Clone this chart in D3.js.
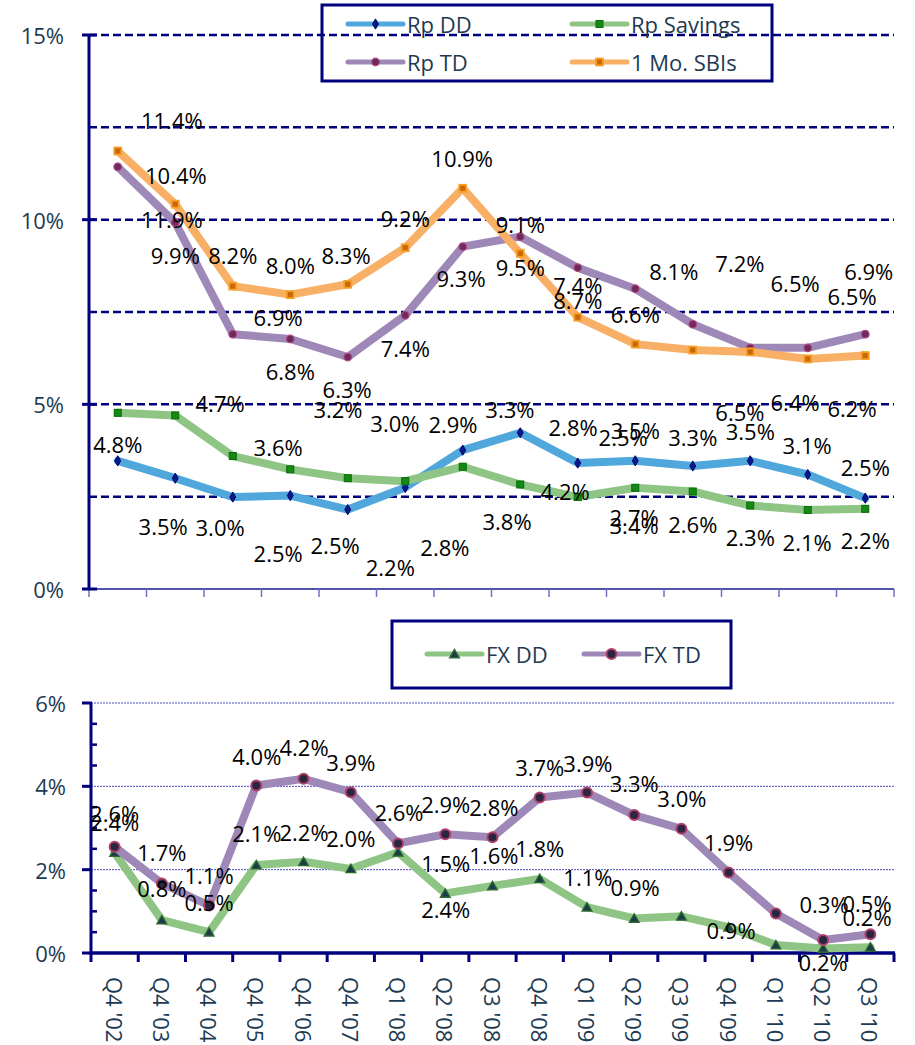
<!DOCTYPE html>
<html><head><meta charset="utf-8">
<script src="https://cdn.jsdelivr.net/npm/d3@7/dist/d3.min.js"></script>
<style>
html,body{margin:0;padding:0;background:#fff;}
svg{display:block;font-family:"Open Sans",sans-serif;}
</style></head>
<body><svg id="c" width="915" height="1045"></svg>
<script>
// ---------- DATA ----------
const bottomCategories = ["Q4 '02","Q4 '03","Q4 '04","Q4 '05","Q4 '06","Q4 '07","Q1 '08","Q2 '08","Q3 '08","Q4 '08","Q1 '09","Q2 '09","Q3 '09","Q4 '09","Q1 '10","Q2 '10","Q3 '10"];
const topCategories = ["P1","P2","P3","P4","P5","P6","P7","P8","P9","P10","P11","P12","P13","P14"];

const rpDD      = [3.47,3.00,2.49,2.53,2.15,2.75,3.76,4.23,3.41,3.47,3.33,3.47,3.10,2.46];
const rpSavings = [4.77,4.70,3.60,3.24,3.00,2.92,3.31,2.83,2.49,2.74,2.64,2.26,2.14,2.17];
const rpTD      = [11.43,9.92,6.90,6.77,6.28,7.41,9.27,9.54,8.70,8.13,7.17,6.53,6.53,6.90];
const sbi1Mo    = [11.86,10.42,8.20,7.97,8.25,9.24,10.85,9.09,7.36,6.63,6.47,6.42,6.23,6.32];

const fxDD = [2.41,0.79,0.50,2.11,2.19,2.02,2.42,1.43,1.61,1.78,1.10,0.83,0.88,0.62,0.19,0.11,0.14];
const fxTD = [2.55,1.67,1.14,4.02,4.18,3.86,2.63,2.85,2.78,3.73,3.85,3.31,2.98,1.93,0.95,0.31,0.45];

const topTicks = [0,5,10,15];
const topGrid = [2.5,5,7.5,10,12.5,15];
const bottomTicks = [0,2,4,6];

// data labels as shown: text, category position, value position
const topLabelText = ["11.4%","10.4%","11.9%","9.9%","8.2%","8.0%","8.3%","9.2%","10.9%","9.3%","9.1%","9.5%","7.4%","8.7%","8.1%","7.2%","6.5%","6.9%","6.5%","6.6%","6.9%","7.4%","6.8%","6.3%","4.7%","3.2%","3.0%","2.9%","3.3%","2.8%","3.5%","2.5%","3.3%","6.5%","3.5%","6.4%","6.2%","3.1%","2.5%","4.8%","3.6%","4.2%","3.8%","3.5%","3.0%","2.5%","2.5%","2.2%","2.8%","2.7%","3.4%","2.6%","2.3%","2.1%","2.2%"];
const topLabelCat  = [0.94,1.01,0.94,1.0,2.0,3.0,3.97,5.0,5.99,5.97,7.0,7.0,8.0,8.0,9.67,10.82,11.78,13.06,12.77,9.0,2.79,5.0,3.0,3.99,1.78,3.83,4.82,5.83,6.82,7.92,9.0,8.79,10.0,10.82,11.0,11.78,12.77,11.99,13.0,0,2.79,7.78,6.77,0.79,1.78,2.79,3.78,4.74,5.69,8.98,8.98,10.0,11.0,11.99,13.0];
const topLabelVal  = [12.70,11.21,10.02,9.04,9.04,8.77,9.04,10.05,11.67,8.42,9.88,8.72,8.23,7.83,8.61,8.83,8.29,8.61,7.93,7.45,7.37,6.53,5.90,5.42,5.04,4.87,4.50,4.47,4.87,4.39,4.31,4.12,4.12,4.79,4.28,5.06,4.90,3.90,3.30,3.93,3.85,2.65,1.84,1.71,1.68,0.97,1.19,0.60,1.14,1.95,1.73,1.76,1.41,1.27,1.33];

const botLabelText = ["2.6%","2.4%","1.7%","4.0%","4.2%","3.9%","2.6%","2.9%","2.8%","3.7%","3.9%","3.3%","3.0%","1.9%","2.1%","2.2%","2.0%","1.5%","1.6%","1.8%","1.1%","0.9%","0.9%","0.3%","0.5%","0.2%","0.2%","0.8%","1.1%","0.5%","2.4%"];
const botLabelCat  = [0,0,1.0,3.01,4.01,5.0,6.02,7.01,8.03,9.0,10.02,11.0,12.01,13.0,3.01,4.01,5.0,7.01,8.03,9.0,10.02,11.02,13.05,15.02,15.93,15.93,15.0,1.0,2.0,2.0,7.01];
const botLabelVal  = [3.36,3.14,2.42,4.73,4.94,4.58,3.38,3.58,3.50,4.46,4.56,4.08,3.72,2.66,2.88,2.90,2.76,2.16,2.35,2.52,1.82,1.58,0.55,1.18,1.20,0.86,-0.22,1.56,1.87,1.22,1.06];

// ---------- STYLE ----------
const NAVY = "#00007f";
const AXTXT = "#1d3a52";
const C = {dd:"#4fa7dc", sav:"#8ec585", td:"#9e88b8", sbi:"#f8b066"};

const svg = d3.select("#c");
svg.append("rect").attr("width",915).attr("height",1045).attr("fill","#fff");

// ---------- TOP CHART ----------
const tx = d3.scaleBand().domain(topCategories).range([89,894]);
const tIdx = d3.scaleLinear().domain([0,topCategories.length-1])
  .range([tx(topCategories[0])+tx.bandwidth()/2, tx(topCategories[topCategories.length-1])+tx.bandwidth()/2]);
const ty = d3.scaleLinear().domain([0,15]).range([589,35]);

const gT = svg.append("g");
// gridlines
gT.selectAll(".tg").data(topGrid).join("line")
  .attr("x1",89).attr("x2",894).attr("y1",d=>ty(d)).attr("y2",d=>ty(d))
  .attr("stroke",NAVY).attr("stroke-width",2.5).attr("stroke-dasharray","8,4");
// x axis
gT.append("line").attr("x1",89).attr("x2",894).attr("y1",ty(0)).attr("y2",ty(0))
  .attr("stroke","#1a1a8c").attr("stroke-width",1.5);
const topBounds = topCategories.map(c=>tx(c)).concat([894]);
gT.selectAll(".txt").data(topBounds).join("line")
  .attr("x1",d=>d).attr("x2",d=>d).attr("y1",ty(0)).attr("y2",ty(0)+8)
  .attr("stroke","#7070c8").attr("stroke-width",1.5);
// y axis
gT.append("line").attr("x1",89).attr("x2",89).attr("y1",ty(15)).attr("y2",ty(0)+1)
  .attr("stroke",NAVY).attr("stroke-width",3);
gT.selectAll(".tyt").data(topTicks).join("line")
  .attr("x1",82).attr("x2",97).attr("y1",d=>ty(d)).attr("y2",d=>ty(d))
  .attr("stroke",NAVY).attr("stroke-width",3);
gT.selectAll(".tyl").data(topTicks).join("text")
  .attr("x",64).attr("y",d=>ty(d)).attr("text-anchor","end").attr("dominant-baseline","central")
  .attr("font-size",22).attr("fill",AXTXT).text(d=>d+"%");

const lineT = d3.line().x((d,i)=>tIdx(i)).y(d=>ty(d));
const topSeries = [
  {v:rpDD, c:C.dd, m:"diamond"},
  {v:rpSavings, c:C.sav, m:"sqG"},
  {v:rpTD, c:C.td, m:"circ"},
  {v:sbi1Mo, c:C.sbi, m:"sqO"}
];
function marker(g, type, x, y, small){
  const k = small?1:1;
  if(type==="diamond"){
    g.append("path").attr("d",d3.symbol(d3.symbolDiamond,30*k)()).attr("transform",`translate(${x},${y})`)
      .attr("fill","#0a1a8a").attr("stroke","#00006a").attr("stroke-width",1);
  } else if(type==="sqG"){
    g.append("rect").attr("x",x-3.5).attr("y",y-3.5).attr("width",7).attr("height",7)
      .attr("fill","#138a13").attr("stroke","#0a6a0a").attr("stroke-width",1);
  } else if(type==="circ"){
    g.append("circle").attr("cx",x).attr("cy",y).attr("r",3.8)
      .attr("fill","#6e2a5a").attr("stroke","#b24a86").attr("stroke-width",1.2);
  } else if(type==="sqO"){
    g.append("rect").attr("x",x-3.5).attr("y",y-3.5).attr("width",7).attr("height",7)
      .attr("fill","#c8680a").attr("stroke","#f6a126").attr("stroke-width",1.8);
  } else if(type==="tri"){
    g.append("path").attr("d",d3.symbol(d3.symbolTriangle,42)()).attr("transform",`translate(${x},${y+1})`)
      .attr("fill","#1b3a4e").attr("stroke","#2e6a2e").attr("stroke-width",1.3);
  } else if(type==="circB"){
    g.append("circle").attr("cx",x).attr("cy",y).attr("r",5)
      .attr("fill","#2a2540").attr("stroke","#b0406d").attr("stroke-width",2);
  }
}
topSeries.forEach(s=>{
  gT.append("path").datum(s.v).attr("d",lineT).attr("fill","none")
    .attr("stroke",s.c).attr("stroke-width",8).attr("stroke-linejoin","round").attr("stroke-linecap","round");
  s.v.forEach((d,i)=>marker(gT,s.m,tIdx(i),ty(d)));
});
// labels
gT.selectAll(".tlab").data(topLabelText).join("text")
  .attr("x",(d,i)=>tIdx(topLabelCat[i])).attr("y",(d,i)=>ty(topLabelVal[i]))
  .attr("text-anchor","middle").attr("dominant-baseline","central")
  .attr("font-size",22).attr("fill","#000").text(d=>d);

// top legend
const lg = svg.append("g");
lg.append("rect").attr("x",322).attr("y",5).attr("width",450).attr("height",76)
  .attr("fill","none").attr("stroke",NAVY).attr("stroke-width",3);
const topLegend = [
  {n:"Rp DD", c:C.dd, m:"diamond", x:348, y:24},
  {n:"Rp Savings", c:C.sav, m:"sqG", x:572, y:24},
  {n:"Rp TD", c:C.td, m:"circ", x:348, y:62},
  {n:"1 Mo. SBIs", c:C.sbi, m:"sqO", x:572, y:62}
];
topLegend.forEach(e=>{
  lg.append("line").attr("x1",e.x).attr("x2",e.x+55).attr("y1",e.y).attr("y2",e.y)
    .attr("stroke",e.c).attr("stroke-width",5).attr("stroke-linecap","round");
  marker(lg,e.m,e.x+27.5,e.y);
  lg.append("text").attr("x",e.x+59).attr("y",e.y).attr("dominant-baseline","central")
    .attr("font-size",22).attr("fill",AXTXT).text(e.n);
});

// ---------- BOTTOM CHART ----------
const bx = d3.scaleBand().domain(bottomCategories).range([91,894]);
const bIdx = d3.scaleLinear().domain([0,bottomCategories.length-1])
  .range([bx(bottomCategories[0])+bx.bandwidth()/2, bx(bottomCategories[bottomCategories.length-1])+bx.bandwidth()/2]);
const by = d3.scaleLinear().domain([0,6]).range([953,703]);
const gB = svg.append("g");
gB.selectAll(".bg").data(bottomTicks.filter(d=>d>0)).join("line")
  .attr("x1",91).attr("x2",894).attr("y1",d=>by(d)).attr("y2",d=>by(d))
  .attr("stroke","#4a4ac0").attr("stroke-width",1).attr("stroke-dasharray","2,1");
// y axis
gB.append("line").attr("x1",91).attr("x2",91).attr("y1",by(6)).attr("y2",by(0))
  .attr("stroke",NAVY).attr("stroke-width",3);
gB.selectAll(".bmt").data(d3.range(0,6.01,0.5).filter(d=>d%2!==0)).join("line")
  .attr("x1",91).attr("x2",97).attr("y1",d=>by(d)).attr("y2",d=>by(d))
  .attr("stroke",NAVY).attr("stroke-width",2.5);
gB.selectAll(".bMt").data(bottomTicks).join("line")
  .attr("x1",82).attr("x2",92).attr("y1",d=>by(d)).attr("y2",d=>by(d))
  .attr("stroke",NAVY).attr("stroke-width",3);
gB.selectAll(".byl").data(bottomTicks).join("text")
  .attr("x",66).attr("y",d=>by(d)).attr("text-anchor","end").attr("dominant-baseline","central")
  .attr("font-size",22).attr("fill",AXTXT).text(d=>d+"%");
// x axis
gB.append("line").attr("x1",89.5).attr("x2",895).attr("y1",by(0)).attr("y2",by(0))
  .attr("stroke",NAVY).attr("stroke-width",3.5);
const botBounds = bottomCategories.map(c=>bx(c)).concat([894]);
gB.selectAll(".bxt").data(botBounds).join("line")
  .attr("x1",d=>d).attr("x2",d=>d).attr("y1",by(0)).attr("y2",by(0)+9)
  .attr("stroke",NAVY).attr("stroke-width",3);
gB.selectAll(".bxl").data(bottomCategories).join("text")
  .attr("transform",d=>`translate(${bx(d)+bx.bandwidth()/2},977) rotate(90)`)
  .attr("text-anchor","start").attr("dominant-baseline","central")
  .attr("font-size",22).attr("fill",AXTXT).text(d=>d);

const lineB = d3.line().x((d,i)=>bIdx(i)).y(d=>by(d));
[{v:fxDD,c:C.sav,m:"tri"},{v:fxTD,c:C.td,m:"circB"}].forEach(s=>{
  gB.append("path").datum(s.v).attr("d",lineB).attr("fill","none")
    .attr("stroke",s.c).attr("stroke-width",8).attr("stroke-linejoin","round").attr("stroke-linecap","round");
  s.v.forEach((d,i)=>marker(gB,s.m,bIdx(i),by(d)));
});
gB.selectAll(".blab").data(botLabelText).join("text")
  .attr("x",(d,i)=>bIdx(botLabelCat[i])).attr("y",(d,i)=>by(botLabelVal[i]))
  .attr("text-anchor","middle").attr("dominant-baseline","central")
  .attr("font-size",22).attr("fill","#000").text(d=>d);

// bottom legend
const lb = svg.append("g");
lb.append("rect").attr("x",392).attr("y",621).attr("width",339).attr("height",67)
  .attr("fill","none").attr("stroke",NAVY).attr("stroke-width",3);
[{n:"FX DD",c:C.sav,m:"tri",x:427},{n:"FX TD",c:C.td,m:"circB",x:584}].forEach(e=>{
  lb.append("line").attr("x1",e.x).attr("x2",e.x+55).attr("y1",654).attr("y2",654)
    .attr("stroke",e.c).attr("stroke-width",5).attr("stroke-linecap","round");
  marker(lb,e.m,e.x+27.5,654);
  lb.append("text").attr("x",e.x+59).attr("y",654).attr("dominant-baseline","central")
    .attr("font-size",22).attr("fill",AXTXT).text(e.n);
});
</script></body></html>
